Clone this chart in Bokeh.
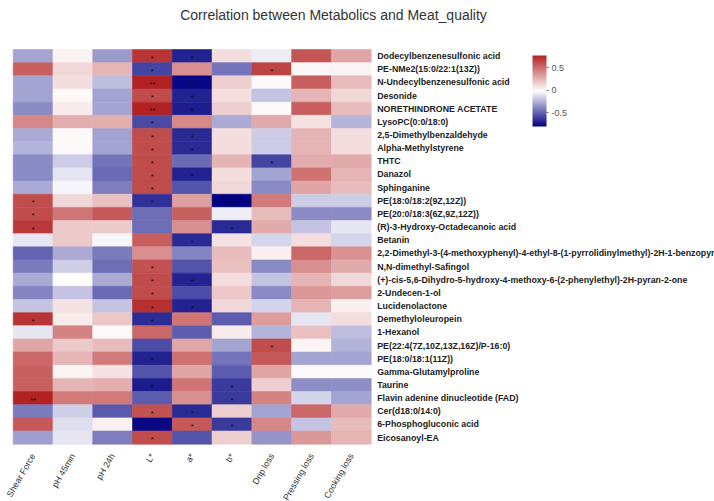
import numpy as np
from bokeh.plotting import figure
from bokeh.models import ColumnDataSource, LinearColorMapper, ColorBar, FixedTicker, Range1d, Label
from bokeh.core.properties import value
from bokeh.embed import file_html
from bokeh.resources import INLINE

# ---------------- data ----------------
metabolites = [
    "Dodecylbenzenesulfonic acid",
    "PE-NMe2(15:0/22:1(13Z))",
    "N-Undecylbenzenesulfonic acid",
    "Desonide",
    "NORETHINDRONE ACETATE",
    "LysoPC(0:0/18:0)",
    "2,5-Dimethylbenzaldehyde",
    "Alpha-Methylstyrene",
    "THTC",
    "Danazol",
    "Sphinganine",
    "PE(18:0/18:2(9Z,12Z))",
    "PE(20:0/18:3(6Z,9Z,12Z))",
    "(R)-3-Hydroxy-Octadecanoic acid",
    "Betanin",
    "2,2-Dimethyl-3-(4-methoxyphenyl)-4-ethyl-8-(1-pyrrolidinylmethyl)-2H-1-benzopyra",
    "N,N-dimethyl-Safingol",
    "(+)-cis-5,6-Dihydro-5-hydroxy-4-methoxy-6-(2-phenylethyl)-2H-pyran-2-one",
    "2-Undecen-1-ol",
    "Lucidenolactone",
    "Demethyloleuropein",
    "1-Hexanol",
    "PE(22:4(7Z,10Z,13Z,16Z)/P-16:0)",
    "PE(18:0/18:1(11Z))",
    "Gamma-Glutamylproline",
    "Taurine",
    "Flavin adenine dinucleotide (FAD)",
    "Cer(d18:0/14:0)",
    "6-Phosphogluconic acid",
    "Eicosanoyl-EA",
]

traits = ["Shear Force", "pH 45min", "pH 24h", "L*", "a*", "b*",
          "Drip loss", "Pressing loss", "Cooking loss"]

shear_force = [-0.30, 0.55, -0.30, -0.30, -0.38, 0.40, -0.28, -0.25, -0.38, -0.38,
               -0.28, 0.62, 0.62, 0.68, -0.10, -0.50, -0.43, -0.28, -0.40, -0.20,
               0.70, -0.10, 0.30, 0.52, 0.55, 0.55, 0.78, -0.43, 0.57, -0.32]
ph_45min = [0.02, 0.12, 0.10, 0.00, 0.05, 0.27, 0.00, 0.00, -0.18, -0.10,
            -0.05, 0.12, 0.47, 0.17, 0.17, -0.28, -0.17, -0.02, -0.20, 0.08,
            0.05, 0.42, 0.17, 0.25, 0.02, 0.25, 0.45, -0.17, -0.12, -0.10]
ph_24h = [-0.33, 0.25, -0.22, -0.30, -0.30, 0.27, -0.30, -0.30, -0.45, -0.48,
          -0.42, 0.20, 0.57, 0.17, -0.05, -0.43, -0.47, -0.28, -0.48, -0.20,
          0.18, 0.00, 0.22, 0.45, 0.08, 0.27, 0.45, -0.53, 0.03, -0.42]
l_star = [0.70, -0.60, 0.78, 0.62, 0.77, -0.58, 0.62, 0.62, 0.62, 0.62,
          0.62, -0.66, -0.47, -0.47, 0.55, 0.38, 0.60, 0.62, 0.62, 0.72,
          -0.67, 0.52, -0.57, -0.70, -0.55, -0.72, -0.52, 0.60, -0.78, 0.62]
a_star = [-0.70, 0.38, -0.78, -0.70, -0.72, 0.40, -0.68, -0.68, -0.48, -0.70,
          -0.55, 0.32, 0.55, 0.38, -0.68, -0.40, -0.55, -0.70, -0.57, -0.70,
          0.47, -0.52, 0.30, 0.48, 0.30, 0.47, 0.38, -0.68, 0.57, -0.55]
b_star = [0.10, -0.45, 0.15, 0.10, 0.15, -0.28, 0.10, 0.10, 0.25, 0.10,
          0.12, -0.80, -0.07, -0.68, 0.08, 0.22, 0.20, 0.10, 0.18, 0.12,
          -0.52, 0.05, -0.30, -0.45, -0.52, -0.63, -0.63, 0.15, -0.63, 0.15]
drip_loss = [-0.08, 0.65, 0.00, -0.20, 0.00, 0.28, -0.18, -0.18, -0.60, -0.30,
             -0.38, 0.45, 0.22, 0.28, -0.15, 0.03, -0.38, -0.20, -0.38, -0.15,
             0.33, -0.25, 0.62, 0.57, 0.30, 0.15, 0.42, -0.30, 0.40, -0.35]
pressing_loss = [0.58, 0.01, 0.55, 0.25, 0.55, 0.08, 0.25, 0.25, 0.28, 0.48,
                 0.30, -0.18, -0.38, -0.20, 0.10, 0.52, 0.38, 0.25, 0.35, 0.25,
                 -0.10, 0.20, 0.02, -0.30, 0.00, -0.37, -0.15, 0.52, -0.20, 0.35]
cooking_loss = [0.30, 0.02, 0.22, 0.12, 0.22, -0.25, 0.10, 0.10, 0.28, 0.25,
                0.22, -0.18, -0.38, -0.10, -0.15, 0.37, 0.28, 0.12, 0.33, 0.03,
                0.10, -0.22, -0.25, -0.30, 0.00, -0.37, -0.30, 0.28, 0.22, 0.25]

# significance marks: (metabolite index, trait index, mark)
star_row = [0, 0, 1, 1, 2, 2, 3, 3, 4, 4, 5, 6, 6, 7, 7, 8, 8, 9, 9, 10,
            11, 11, 11, 12, 13, 13, 14, 16, 17, 17, 18, 19, 19, 20, 20, 22, 23,
            25, 25, 26, 26, 27, 27, 28, 28, 28, 29]
star_col = [3, 4, 3, 6, 3, 4, 3, 4, 3, 4, 3, 3, 4, 3, 4, 3, 6, 3, 4, 3,
            0, 3, 5, 0, 0, 5, 4, 3, 3, 4, 3, 3, 4, 0, 3, 6, 3,
            3, 5, 0, 5, 3, 4, 3, 4, 5, 3]
star_mark = ["*", "*", "*", "*", "**", "**", "*", "*", "**", "*", "*", "*", "*", "*", "*", "*", "*", "*", "*", "*",
             "*", "*", "**", "*", "*", "*", "*", "*", "*", "*", "*", "*", "*", "*", "*", "*", "*",
             "*", "*", "**", "*", "*", "*", "*", "*", "*", "*"]

value_columns = [shear_force, ph_45min, ph_24h, l_star, a_star, b_star,
                 drip_loss, pressing_loss, cooking_loss]

# ---------------- layout ----------------
W, H = 714, 501
CW = 39.78          # px per column
RH = 13.157         # px per row
LEFT_PX, TOP_PX = 12.7, 49.0
x0 = -LEFT_PX / CW
x1 = x0 + W / CW
ytop = -TOP_PX / RH
ybot = ytop + H / RH

def lerp(c1, c2, t):
    return tuple(int(round(a + (b - a) * t)) for a, b in zip(c1, c2))

navy, white, red = (0, 0, 128), (255, 255, 255), (178, 34, 34)
palette = []
N = 256
for k in range(N):
    t = k / (N - 1)
    c = lerp(navy, white, t * 2) if t <= 0.5 else lerp(white, red, (t - 0.5) * 2)
    palette.append("#%02x%02x%02x" % c)

mapper = LinearColorMapper(palette=palette, low=-0.81, high=0.77)

p = figure(width=W, height=H, x_range=Range1d(x0, x1), y_range=Range1d(ybot, ytop),
           output_backend="svg", toolbar_location=None,
           x_axis_location=None, y_axis_location=None, min_border=0)
p.outline_line_color = None
p.grid.visible = False
p.background_fill_color = "white"
p.border_fill_color = "white"

xs, ys, vs = [], [], []
for j, col in enumerate(value_columns):
    for i, v in enumerate(col):
        xs.append(j + 0.5)
        ys.append(i + 0.5)
        vs.append(v)
src = ColumnDataSource(dict(x=xs, y=ys, v=vs))
p.rect("x", "y", 1, 1, source=src,
       fill_color={"field": "v", "transform": mapper},
       line_color={"field": "v", "transform": mapper}, line_width=0.6)

# significance stars
p.text(x=[c + 0.5 for c in star_col], y=[r + 0.5 for r in star_row], text=star_mark,
       text_font=value("Liberation Sans"), text_font_size="8px", text_color="#111111",
       text_align="center", text_baseline="middle", y_offset=2)

# row labels
p.text(x=[9] * len(metabolites), y=[i + 0.5 for i in range(len(metabolites))],
       text=metabolites, x_offset=6,
       text_font=value("Liberation Sans"), text_font_style="bold", text_font_size="8.8px",
       text_color="#222222", text_align="left", text_baseline="middle")

# column labels
p.text(x=[j + 0.5 for j in range(len(traits))], y=[len(metabolites)] * len(traits),
       text=traits, angle=np.pi / 3, x_offset=0, y_offset=10,
       text_font=value("Liberation Sans"), text_font_size="8.8px",
       text_color="#333333", text_align="right", text_baseline="middle")

# title
p.add_layout(Label(x=x0 + 333 / CW, y=ytop + 14 / RH,
                   text="Correlation between Metabolics and Meat_quality",
                   text_font="Liberation Sans", text_font_size="14px",
                   text_color="#333333", text_align="center", text_baseline="middle"))

cb = ColorBar(color_mapper=mapper, location=(532, 375), width=14, height=71, padding=0,
              ticker=FixedTicker(ticks=[-0.5, 0, 0.5]),
              major_label_overrides={-0.5: "-0.5", 0: "0", 0.5: "0.5"},
              major_label_text_font="Liberation Sans",
              major_label_text_font_size="9px", major_label_text_color="#555555",
              major_tick_line_color="#666666", major_tick_in=0, major_tick_out=2,
              label_standoff=3, bar_line_color=None, border_line_color=None,
              background_fill_alpha=0)
p.add_layout(cb, "center")

open("out.html", "w").write(file_html(p, INLINE))
